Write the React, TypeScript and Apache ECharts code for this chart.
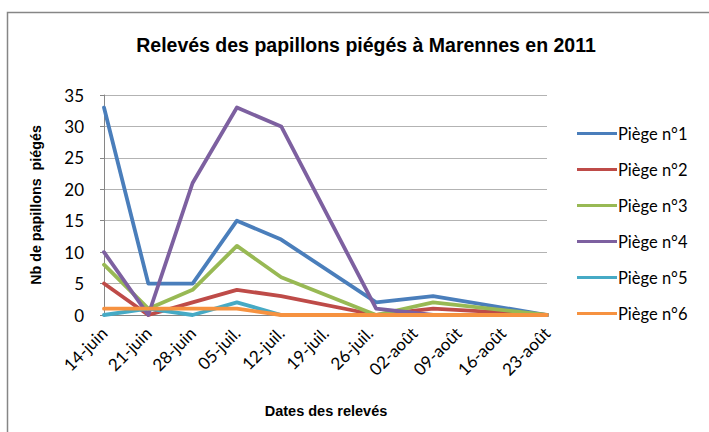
import React, { useEffect, useRef } from "react";
import * as echarts from "echarts";

const titleText = "Relevés des papillons piégés à Marennes en 2011";
const xAxisTitle = "Dates des relevés";
const yAxisTitle = "Nb de papillons  piégés";

// weekly axis tick labels (from 14 June 2011, every 7 days)
const tickLabels = [
  "14-juin", "21-juin", "28-juin", "05-juil.", "12-juil.", "19-juil.",
  "26-juil.", "02-août", "09-août", "16-août", "23-août",
];

// dates of the samplings
const sampleDates = [
  "2011-06-14", "2011-06-21", "2011-06-28", "2011-07-05",
  "2011-07-12", "2011-07-27", "2011-08-05", "2011-08-23",
];

const seriesNames = ["Piège n°1", "Piège n°2", "Piège n°3", "Piège n°4", "Piège n°5", "Piège n°6"];
const piege1 = [33, 5, 5, 15, 12, 2, 3, 0];
const piege2 = [5, 0, 2, 4, 3, 0, 1, 0];
const piege3 = [8, 1, 4, 11, 6, 0, 2, 0];
const piege4 = [10, 0, 21, 33, 30, 1, 0, 0];
const piege5 = [0, 1, 0, 2, 0, 0, 0, 0];
const piege6 = [1, 1, 1, 1, 0, 0, 0, 0];

const colors = ["#4A7EBB", "#BE4B48", "#98B954", "#7D60A0", "#46AAC5", "#F69240"];

const DAY = 24 * 3600 * 1000;
const start = Date.parse(sampleDates[0] + "T00:00:00Z");
const dayOffsets = sampleDates.map((d) => Math.round((Date.parse(d + "T00:00:00Z") - start) / DAY));

export default function App() {
  const ref = useRef<HTMLDivElement>(null);
  useEffect(() => {
    if (!ref.current) return;
    const chart = echarts.init(ref.current, undefined, { renderer: "svg" });
    const all = [piege1, piege2, piege3, piege4, piege5, piege6];
    const labelFont = "Lato, 'Open Sans', sans-serif";
    chart.setOption({
      animation: false,
      backgroundColor: "#ffffff",
      title: {
        text: titleText,
        left: 361,
        top: 30,
        textAlign: "center",
        textStyle: {
          fontFamily: "'Liberation Sans', Arial, sans-serif",
          fontSize: 19.5,
          fontWeight: "bold",
          color: "#000",
        },
      },
      graphic: [
        {
          type: "rect",
          shape: { x: 7.5, y: 12.5, width: 760, height: 480 },
          style: { fill: "none", stroke: "#868686", lineWidth: 1.5 },
          silent: true,
        },
        {
          type: "text",
          x: 326,
          y: 403,
          style: {
            text: xAxisTitle,
            font: "bold 14.5px 'Liberation Sans', Arial, sans-serif",
            fill: "#000",
            textAlign: "center",
          },
        },
      ],
      legend: {
        orient: "vertical",
        left: 572,
        top: 120,
        itemWidth: 40,
        itemHeight: 14,
        itemGap: 19,
        icon: "path://M0,6 L40,6 L40,9 L0,9 Z",
        textStyle: { fontFamily: labelFont, fontSize: 16.5, color: "#000", padding: [0, 0, 0, -4] },
        data: seriesNames,
      },
      grid: { left: 104, top: 95, width: 443, height: 220, containLabel: false },
      xAxis: {
        type: "value",
        min: 0,
        max: 70,
        interval: 7,
        axisLine: { show: true, lineStyle: { color: "#868686", width: 1 } },
        axisTick: { show: false },
        splitLine: { show: false },
        axisLabel: {
          rotate: 45,
          margin: 15,
          fontFamily: labelFont,
          fontSize: 17,
          color: "#000",
          formatter: (v: number) => tickLabels[Math.round(v / 7)] ?? "",
        },
      },
      yAxis: {
        type: "value",
        min: 0,
        max: 35,
        interval: 5,
        name: yAxisTitle,
        nameLocation: "middle",
        nameGap: 61,
        nameTextStyle: {
          fontFamily: "'Liberation Sans', Arial, sans-serif",
          fontSize: 14.3,
          fontWeight: "bold",
          color: "#000",
        },
        axisLine: { show: true, lineStyle: { color: "#868686", width: 1 } },
        axisTick: { show: true, length: 4, lineStyle: { color: "#868686" } },
        splitLine: { show: true, lineStyle: { color: "#B3B3B3", width: 1 } },
        axisLabel: { fontFamily: labelFont, fontSize: 17, color: "#000", margin: 20 },
      },
      series: seriesNames.map((name, i) => ({
        name,
        type: "line",
        data: all[i].map((v, j) => [dayOffsets[j], v]),
        symbol: "none",
        color: colors[i],
        lineStyle: { width: 3.8, color: colors[i], cap: "round", join: "round" },
      })),
    });
    return () => chart.dispose();
  }, []);
  return (
    <div
      ref={ref}
      style={{ position: "fixed", left: 0, top: 0, width: 709, height: 432 }}
    />
  );
}
